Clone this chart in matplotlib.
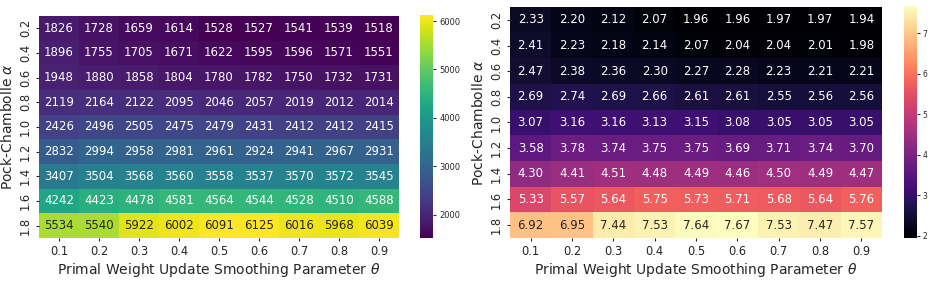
import numpy as np
import matplotlib
matplotlib.use("Agg")
import matplotlib.pyplot as plt
import seaborn as sns

thetas = ["0.1", "0.2", "0.3", "0.4", "0.5", "0.6", "0.7", "0.8", "0.9"]
alphas = ["0.2", "0.4", "0.6", "0.8", "1.0", "1.2", "1.4", "1.6", "1.8"]

iters = np.array([
    [1826, 1728, 1659, 1614, 1528, 1527, 1541, 1539, 1518],
    [1896, 1755, 1705, 1671, 1622, 1595, 1596, 1571, 1551],
    [1948, 1880, 1858, 1804, 1780, 1782, 1750, 1732, 1731],
    [2119, 2164, 2122, 2095, 2046, 2057, 2019, 2012, 2014],
    [2426, 2496, 2505, 2475, 2479, 2431, 2412, 2412, 2415],
    [2832, 2994, 2958, 2981, 2961, 2924, 2941, 2967, 2931],
    [3407, 3504, 3568, 3560, 3558, 3537, 3570, 3572, 3545],
    [4242, 4423, 4478, 4581, 4564, 4544, 4528, 4510, 4588],
    [5534, 5540, 5922, 6002, 6091, 6125, 6016, 5968, 6039],
])

times = np.array([
    [2.33, 2.20, 2.12, 2.07, 1.96, 1.96, 1.97, 1.97, 1.94],
    [2.41, 2.23, 2.18, 2.14, 2.07, 2.04, 2.04, 2.01, 1.98],
    [2.47, 2.38, 2.36, 2.30, 2.27, 2.28, 2.23, 2.21, 2.21],
    [2.69, 2.74, 2.69, 2.66, 2.61, 2.61, 2.55, 2.56, 2.56],
    [3.07, 3.16, 3.16, 3.13, 3.15, 3.08, 3.05, 3.05, 3.05],
    [3.58, 3.78, 3.74, 3.75, 3.75, 3.69, 3.71, 3.74, 3.70],
    [4.30, 4.41, 4.51, 4.48, 4.49, 4.46, 4.50, 4.49, 4.47],
    [5.33, 5.57, 5.64, 5.75, 5.73, 5.71, 5.68, 5.64, 5.76],
    [6.92, 6.95, 7.44, 7.53, 7.64, 7.67, 7.53, 7.47, 7.57],
])

W, H = 933, 302
fig = plt.figure(figsize=(W / 100, H / 100), dpi=100)

def rect(x0, y0, x1, y1):
    return [x0 / W, 1 - y1 / H, (x1 - x0) / W, (y1 - y0) / H]

ax1 = fig.add_axes(rect(39, 16, 399, 238))
cax1 = fig.add_axes(rect(420, 15, 433, 238))
ax2 = fig.add_axes(rect(510, 7, 882, 238))
cax2 = fig.add_axes(rect(904, 6, 917, 238))

sns.heatmap(iters, ax=ax1, cbar_ax=cax1, cmap="viridis", annot=True, fmt="d",
            annot_kws={"fontsize": 8.5}, xticklabels=thetas, yticklabels=alphas)
sns.heatmap(times, ax=ax2, cbar_ax=cax2, cmap="magma", annot=True, fmt=".2f",
            annot_kws={"fontsize": 8.5}, xticklabels=thetas, yticklabels=alphas)

tc = "#262626"
for ax in (ax1, ax2):
    ax.set_xlabel(r"Primal Weight Update Smoothing Parameter $\theta$", fontsize=10,
                  labelpad=2, color=tc)
    ax.set_ylabel(r"Pock-Chambolle $\alpha$", fontsize=10, labelpad=3, color=tc)
    ax.tick_params(axis="both", labelsize=8.3, length=2.5, pad=2.5, color=tc, labelcolor=tc)
    ax.tick_params(axis="y", rotation=90)
    for lab in ax.get_yticklabels():
        lab.set_va("center")

cax1.tick_params(labelsize=6, length=2.5, pad=2, color=tc, labelcolor=tc)
cax1.set_yticks([2000, 3000, 4000, 5000, 6000])
cax2.tick_params(labelsize=5.5, length=2, pad=2, color=tc, labelcolor=tc)
cax2.set_yticks([2, 3, 4, 5, 6, 7])

fig.savefig("out.png", dpi=100)
